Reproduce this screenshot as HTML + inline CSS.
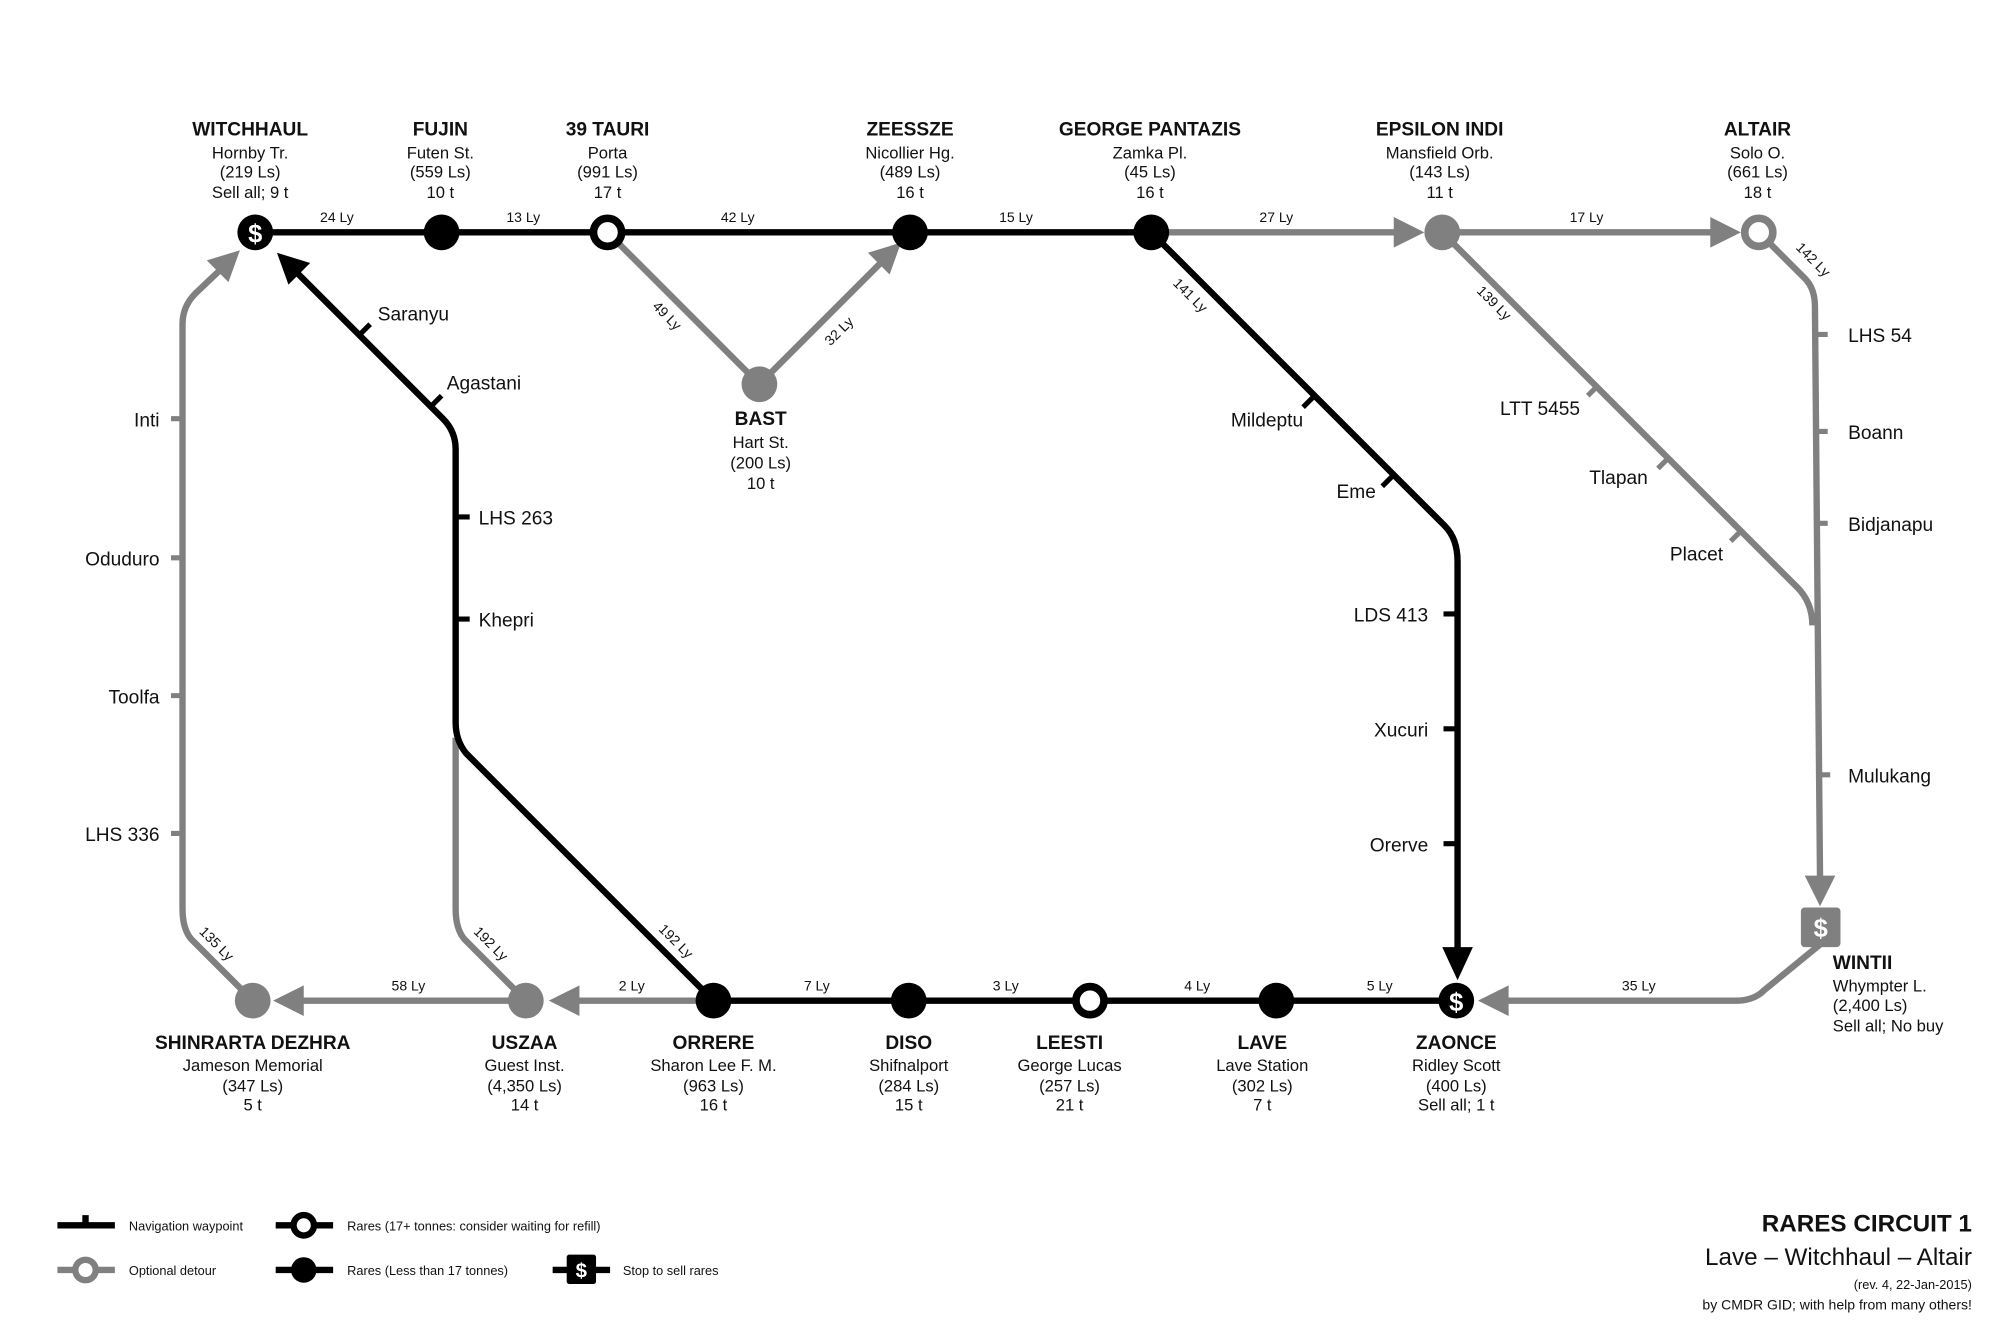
<!DOCTYPE html>
<html><head><meta charset="utf-8"><style>
html,body{margin:0;padding:0;background:#fff;}
svg{display:block;}
text{font-family:"Liberation Sans",sans-serif;fill:#111;}
.nm{font-weight:bold;font-size:15px;text-anchor:middle;}
.sb{font-size:13px;text-anchor:middle;}
.ly{font-size:11px;text-anchor:middle;}
.wp{font-size:15px;}
.k{stroke:#000;stroke-width:5;fill:none;stroke-linejoin:round;}
.g{stroke:#808080;stroke-width:5;fill:none;stroke-linejoin:round;}
.lg{font-size:10px;}
</style></head><body>
<svg width="2000" height="1330" viewBox="0 0 1567 1042">
<g>
<path class="g" d="M902 182 H1100"/>
<polygon fill="#808080" points="1116,182 1092,170 1092,194"/>
<path class="g" d="M1130 182 H1350"/>
<polygon fill="#808080" points="1364,182 1340,170 1340,194"/>
<path class="g" d="M1378 182 L1414 218 Q1422 226 1422 240 L1426 690"/>
<polygon fill="#808080" points="1426,710 1414,686 1438,686"/>
<path class="g" d="M1130 182 L1408 460 Q1420 472 1420 490"/>
<path class="g" d="M1426 740 L1382 776 Q1374 784 1360 784 H1178"/>
<polygon fill="#808080" points="1158,784 1182,772 1182,796"/>
<path class="g" d="M476 182 L595 301 L696 200"/>
<polygon fill="#808080" points="706,190 680,198 697,215"/>
<path class="g" d="M559 784 H450"/>
<polygon fill="#808080" points="430,784 454,772 454,796"/>
<path class="g" d="M412 784 L364 736 Q357 728 357 712 V578"/>
<path class="g" d="M412 784 H236"/>
<polygon fill="#808080" points="214,784 238,772 238,796"/>
<path class="g" d="M198 784 L150 736 Q143 728 143 712 V254 Q143 240 153 230 L172 212"/>
<polygon fill="#808080" points="188,196 162,204 179,221"/>
</g>
<g>
<path class="k" d="M200 182 H902 L1132 412 Q1142 422 1142 440 V746"/>
<polygon fill="#000" points="1142,768 1130,742 1154,742"/>
<path class="k" d="M1141 784 H559 L365 590 Q357 580 357 566 V352 Q357 338 347 328 L232 213"/>
<polygon fill="#000" points="217,198 243,206 226,223"/>
</g>
<g>
<path stroke="#808080" stroke-width="4" d="M134 328H143M134 437H143M134 545H143M134 653H143"/>
<path stroke="#808080" stroke-width="4" d="M1422 262H1432M1422 338H1432M1422 410H1432M1424 607H1434"/>
<path stroke="#808080" stroke-width="4" d="M1244 310L1251 303M1299 367L1306 360M1356 424L1363 417"/>
<path stroke="#000" stroke-width="4" d="M357 405H368M357 485H368M1131 481H1142M1131 571H1142M1131 661H1142"/>
<path stroke="#000" stroke-width="4" d="M282 262L290 254M338 318L346 310M1021 319L1029 311M1083 381L1091 373"/>
</g>
<g class="wp">
<text x="125" y="334" text-anchor="end">Inti</text>
<text x="125" y="443" text-anchor="end">Oduduro</text>
<text x="125" y="551" text-anchor="end">Toolfa</text>
<text x="125" y="659" text-anchor="end">LHS 336</text>
<text x="296" y="251">Saranyu</text>
<text x="350" y="305">Agastani</text>
<text x="375" y="411">LHS 263</text>
<text x="375" y="491">Khepri</text>
<text x="1021" y="334" text-anchor="end">Mildeptu</text>
<text x="1078" y="390" text-anchor="end">Eme</text>
<text x="1119" y="487" text-anchor="end">LDS 413</text>
<text x="1119" y="577" text-anchor="end">Xucuri</text>
<text x="1119" y="667" text-anchor="end">Orerve</text>
<text x="1238" y="325" text-anchor="end">LTT 5455</text>
<text x="1291" y="379" text-anchor="end">Tlapan</text>
<text x="1350" y="439" text-anchor="end">Placet</text>
<text x="1448" y="268">LHS 54</text>
<text x="1448" y="344">Boann</text>
<text x="1448" y="416">Bidjanapu</text>
<text x="1448" y="613">Mulukang</text>
</g>
<g class="ly">
<text x="264" y="174">24 Ly</text><text x="410" y="174">13 Ly</text><text x="578" y="174">42 Ly</text>
<text x="796" y="174">15 Ly</text><text x="1000" y="174">27 Ly</text><text x="1243" y="174">17 Ly</text>
<text x="320" y="776">58 Ly</text><text x="495" y="776">2 Ly</text><text x="640" y="776">7 Ly</text>
<text x="788" y="776">3 Ly</text><text x="938" y="776">4 Ly</text><text x="1081" y="776">5 Ly</text>
<text x="1284" y="776">35 Ly</text>
<text transform="translate(520,250) rotate(45)">49 Ly</text>
<text transform="translate(660,262) rotate(-45)">32 Ly</text>
<text transform="translate(930,234) rotate(45)">141 Ly</text>
<text transform="translate(1168,240) rotate(45)">139 Ly</text>
<text transform="translate(1418,206) rotate(45)">142 Ly</text>
<text transform="translate(167,742) rotate(45)">135 Ly</text>
<text transform="translate(382,742) rotate(45)">192 Ly</text>
<text transform="translate(527,740) rotate(45)">192 Ly</text>
</g>
<g>
<circle cx="200" cy="182" r="14" fill="#000"/><text x="200" y="190" style="font-size:20px;font-weight:bold;fill:#fff;text-anchor:middle">$</text>
<circle cx="346" cy="182" r="14" fill="#000"/>
<circle cx="476" cy="182" r="11" fill="#fff" stroke="#000" stroke-width="6"/>
<circle cx="713" cy="182" r="14" fill="#000"/>
<circle cx="902" cy="182" r="14" fill="#000"/>
<circle cx="1130" cy="182" r="14" fill="#808080"/>
<circle cx="1378" cy="182" r="11" fill="#fff" stroke="#808080" stroke-width="6"/>
<circle cx="595" cy="301" r="14" fill="#808080"/>
<circle cx="198" cy="784" r="14" fill="#808080"/>
<circle cx="412" cy="784" r="14" fill="#808080"/>
<circle cx="559" cy="784" r="14" fill="#000"/>
<circle cx="712" cy="784" r="14" fill="#000"/>
<circle cx="854" cy="784" r="11" fill="#fff" stroke="#000" stroke-width="6"/>
<circle cx="1000" cy="784" r="14" fill="#000"/>
<circle cx="1141" cy="784" r="14" fill="#000"/><text x="1141" y="792" style="font-size:20px;font-weight:bold;fill:#fff;text-anchor:middle">$</text>
<rect x="1411" y="711" width="31" height="31" rx="3" fill="#808080"/><text x="1426.5" y="734" style="font-size:20px;font-weight:bold;fill:#fff;text-anchor:middle">$</text>
</g>
<g>
<text class="nm" x="196" y="106">WITCHHAUL</text><text class="sb" x="196" y="124">Hornby Tr.</text><text class="sb" x="196" y="139">(219 Ls)</text><text class="sb" x="196" y="155">Sell all; 9 t</text>
<text class="nm" x="345" y="106">FUJIN</text><text class="sb" x="345" y="124">Futen St.</text><text class="sb" x="345" y="139">(559 Ls)</text><text class="sb" x="345" y="155">10 t</text>
<text class="nm" x="476" y="106">39 TAURI</text><text class="sb" x="476" y="124">Porta</text><text class="sb" x="476" y="139">(991 Ls)</text><text class="sb" x="476" y="155">17 t</text>
<text class="nm" x="713" y="106">ZEESSZE</text><text class="sb" x="713" y="124">Nicollier Hg.</text><text class="sb" x="713" y="139">(489 Ls)</text><text class="sb" x="713" y="155">16 t</text>
<text class="nm" x="901" y="106">GEORGE PANTAZIS</text><text class="sb" x="901" y="124">Zamka Pl.</text><text class="sb" x="901" y="139">(45 Ls)</text><text class="sb" x="901" y="155">16 t</text>
<text class="nm" x="1128" y="106">EPSILON INDI</text><text class="sb" x="1128" y="124">Mansfield Orb.</text><text class="sb" x="1128" y="139">(143 Ls)</text><text class="sb" x="1128" y="155">11 t</text>
<text class="nm" x="1377" y="106">ALTAIR</text><text class="sb" x="1377" y="124">Solo O.</text><text class="sb" x="1377" y="139">(661 Ls)</text><text class="sb" x="1377" y="155">18 t</text>
<text class="nm" x="596" y="333">BAST</text><text class="sb" x="596" y="351">Hart St.</text><text class="sb" x="596" y="367">(200 Ls)</text><text class="sb" x="596" y="383">10 t</text>
<text class="nm" x="198" y="822">SHINRARTA DEZHRA</text><text class="sb" x="198" y="839">Jameson Memorial</text><text class="sb" x="198" y="855">(347 Ls)</text><text class="sb" x="198" y="870">5 t</text>
<text class="nm" x="411" y="822">USZAA</text><text class="sb" x="411" y="839">Guest Inst.</text><text class="sb" x="411" y="855">(4,350 Ls)</text><text class="sb" x="411" y="870">14 t</text>
<text class="nm" x="559" y="822">ORRERE</text><text class="sb" x="559" y="839">Sharon Lee F. M.</text><text class="sb" x="559" y="855">(963 Ls)</text><text class="sb" x="559" y="870">16 t</text>
<text class="nm" x="712" y="822">DISO</text><text class="sb" x="712" y="839">Shifnalport</text><text class="sb" x="712" y="855">(284 Ls)</text><text class="sb" x="712" y="870">15 t</text>
<text class="nm" x="838" y="822">LEESTI</text><text class="sb" x="838" y="839">George Lucas</text><text class="sb" x="838" y="855">(257 Ls)</text><text class="sb" x="838" y="870">21 t</text>
<text class="nm" x="989" y="822">LAVE</text><text class="sb" x="989" y="839">Lave Station</text><text class="sb" x="989" y="855">(302 Ls)</text><text class="sb" x="989" y="870">7 t</text>
<text class="nm" x="1141" y="822">ZAONCE</text><text class="sb" x="1141" y="839">Ridley Scott</text><text class="sb" x="1141" y="855">(400 Ls)</text><text class="sb" x="1141" y="870">Sell all; 1 t</text>
<text class="nm" x="1436" y="759" style="text-anchor:start">WINTII</text><text class="sb" x="1436" y="777" style="text-anchor:start">Whympter L.</text><text class="sb" x="1436" y="792" style="text-anchor:start">(2,400 Ls)</text><text class="sb" x="1436" y="808" style="text-anchor:start">Sell all; No buy</text>
</g>
<g>
<path stroke="#000" stroke-width="5" d="M45 960H90M67 952V960"/>
<text class="lg" x="101" y="964">Navigation waypoint</text>
<path stroke="#808080" stroke-width="5" d="M45 995H90"/><circle cx="67" cy="995" r="8" fill="#fff" stroke="#808080" stroke-width="5"/>
<text class="lg" x="101" y="999">Optional detour</text>
<path stroke="#000" stroke-width="5" d="M216 960H261"/><circle cx="238" cy="960" r="8" fill="#fff" stroke="#000" stroke-width="5"/>
<text class="lg" x="272" y="964">Rares (17+ tonnes: consider waiting for refill)</text>
<path stroke="#000" stroke-width="5" d="M216 995H261"/><circle cx="238" cy="995" r="10" fill="#000"/>
<text class="lg" x="272" y="999">Rares (Less than 17 tonnes)</text>
<path stroke="#000" stroke-width="5" d="M433 995H478"/><rect x="444" y="983" width="23" height="23" rx="2" fill="#000"/><text x="455.5" y="1001" style="font-size:16px;font-weight:bold;fill:#fff;text-anchor:middle">$</text>
<text class="lg" x="488" y="999">Stop to sell rares</text>
</g>
<g>
<text x="1545" y="965" style="font-size:19px;font-weight:bold;text-anchor:end">RARES CIRCUIT 1</text>
<text x="1545" y="991" style="font-size:19px;text-anchor:end">Lave – Witchhaul – Altair</text>
<text x="1545" y="1010" style="font-size:10px;text-anchor:end">(rev. 4, 22-Jan-2015)</text>
<text x="1545" y="1026" style="font-size:11px;text-anchor:end">by CMDR GID; with help from many others!</text>
</g>
</svg>
</body></html>
